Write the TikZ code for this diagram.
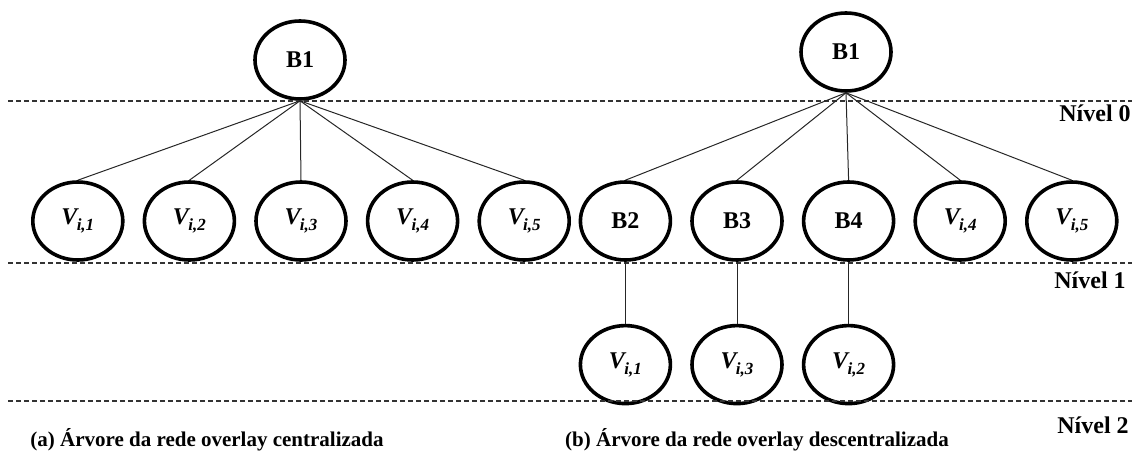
\documentclass[tikz,border=0pt]{standalone}
\usepackage{fontspec}
\setmainfont{Liberation Serif}
\usetikzlibrary{positioning, shapes.geometric}
\newcommand{\vlab}[1]{{\itshape V\kern-0.3pt\raisebox{-0.55ex}{\fontsize{8.5}{9}\selectfont i,#1}}}

\begin{document}
\begin{tikzpicture}[
    x=0.5pt, y=-0.5pt,
    node distance=9pt,
    peer/.style={ellipse, draw, line width=1.8pt, minimum width=45pt, minimum height=39pt, inner sep=0pt, font=\fontsize{12}{13}\selectfont\bfseries},
    link/.style={line width=0.5pt, black!85},
    level/.style={dashed, line width=0.7pt, dash pattern=on 2.5pt off 1.5pt, black!80},
    lvltext/.style={font=\fontsize{12}{13}\selectfont\bfseries},
    caption/.style={font=\fontsize{10.5}{12}\selectfont\bfseries}
]
\useasboundingbox (0,0) rectangle (1135,455);

% (a) centralizada
\node[peer] (ra) at (300,60) {B1};
\node[peer] (va3) at (301,221) {\vlab{3}};
\node[peer, left=of va3] (va2) {\vlab{2}};
\node[peer, left=of va2] (va1) {\vlab{1}};
\node[peer, right=of va3] (va4) {\vlab{4}};
\node[peer, right=of va4] (va5) {\vlab{5}};

% (b) descentralizada
\node[peer] (rb) at (846,52) {B1};
\node[peer] (b3) at (737,221) {B3};
\node[peer, left=of b3] (b2) {B2};
\node[peer, right=of b3] (b4) {B4};
\node[peer, right=of b4] (vb4) {\vlab{4}};
\node[peer, right=of vb4] (vb5) {\vlab{5}};
\node[peer, below=31pt of b2] (vb1) {\vlab{1}};
\node[peer, below=31pt of b3] (vb3) {\vlab{3}};
\node[peer, below=31pt of b4] (vb2) {\vlab{2}};

% niveis
\draw[level] (8,101) -- (1132,101);
\draw[level] (8,263) -- (1132,263);
\draw[level] (8,401) -- (1132,401);
\node[lvltext] (n0) at (1095,113) {Nível 0};
\node[lvltext] (n1) at (1090,280) {Nível 1};
\node[lvltext] (n2) at (1093,425) {Nível 2};

\foreach \c in {va1,va2,va3,va4,va5}
  \draw[link] (ra.south) -- (\c.north);
\foreach \c in {b2,b3,b4,vb4,vb5}
  \draw[link] (rb.south) -- (\c.north);
\draw[link] (b2) -- (vb1);
\draw[link] (b3) -- (vb3);
\draw[link] (b4) -- (vb2);

\node[caption] (capa) at (207,440) {(a) Árvore da rede overlay centralizada};
\node[caption] (capb) at (757,440) {(b) Árvore da rede overlay descentralizada};
\end{tikzpicture}
\end{document}
